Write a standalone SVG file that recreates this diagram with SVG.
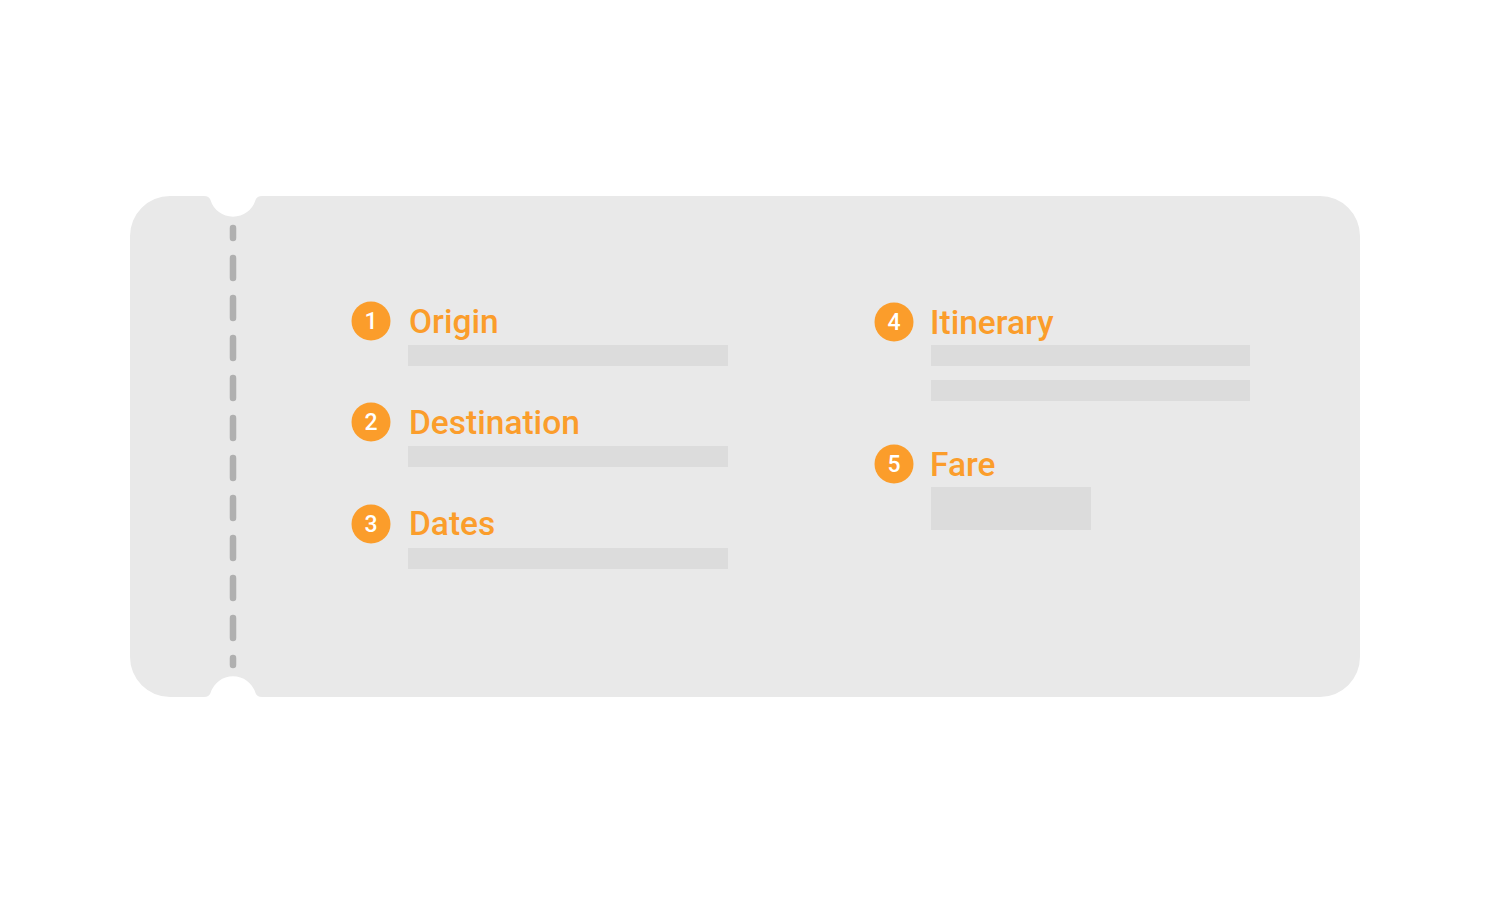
<svg xmlns="http://www.w3.org/2000/svg" width="1500" height="900" viewBox="0 0 1500 900">
<style>
.bar{fill:#dcdcdc}
.num{fill:#fb9d2b}
.numt{fill:#ffffff;font-family:Roboto,"Liberation Sans",sans-serif;font-size:23px;font-weight:500;text-anchor:middle}
.lbl{fill:#fb9d2b;font-family:Roboto,"Liberation Sans",sans-serif;font-size:33.5px;font-weight:500}
</style>
<rect width="1500" height="900" fill="#ffffff"/>
<g id="ticket">
<path d="M170,196 L204,196 Q209,196 210.5,200 A23.5,23.5 0 0 0 255.5,200 Q257,196 262,196 L1320,196 A40,40 0 0 1 1360,236 L1360,657 A40,40 0 0 1 1320,697 L262,697 Q257,697 255.5,693 A23.5,23.5 0 0 0 210.5,693 Q209,697 204,697 L170,697 A40,40 0 0 1 130,657 L130,236 A40,40 0 0 1 170,196 Z" fill="#e9e9e9"/>
<line x1="233" y1="228" x2="233" y2="665" stroke="#b0b0b0" stroke-width="6.5" stroke-linecap="round" stroke-dasharray="20 20" stroke-dashoffset="10"/>
</g>
<g id="origin">
<circle class="num" cx="371" cy="321" r="19.5"/>
<text class="numt" x="371" y="329">1</text>
<text class="lbl" x="409" y="333">Origin</text>
<rect class="bar" x="408" y="345" width="320" height="21"/>
</g>
<g id="destination">
<circle class="num" cx="371" cy="422" r="19.5"/>
<text class="numt" x="371" y="430">2</text>
<text class="lbl" x="409" y="434">Destination</text>
<rect class="bar" x="408" y="446" width="320" height="21"/>
</g>
<g id="dates">
<circle class="num" cx="371" cy="524" r="19.5"/>
<text class="numt" x="371" y="532">3</text>
<text class="lbl" x="409" y="535">Dates</text>
<rect class="bar" x="408" y="548" width="320" height="21"/>
</g>
<g id="itinerary">
<circle class="num" cx="894" cy="322" r="19.5"/>
<text class="numt" x="894" y="330">4</text>
<text class="lbl" x="930" y="334">Itinerary</text>
<rect class="bar" x="931" y="345" width="319" height="21"/>
<rect class="bar" x="931" y="380" width="319" height="21"/>
</g>
<g id="fare">
<circle class="num" cx="894" cy="464" r="19.5"/>
<text class="numt" x="894" y="472">5</text>
<text class="lbl" x="930" y="476">Fare</text>
<rect class="bar" x="931" y="487" width="160" height="43"/>
</g>
<g id="connectors"></g>
</svg>
